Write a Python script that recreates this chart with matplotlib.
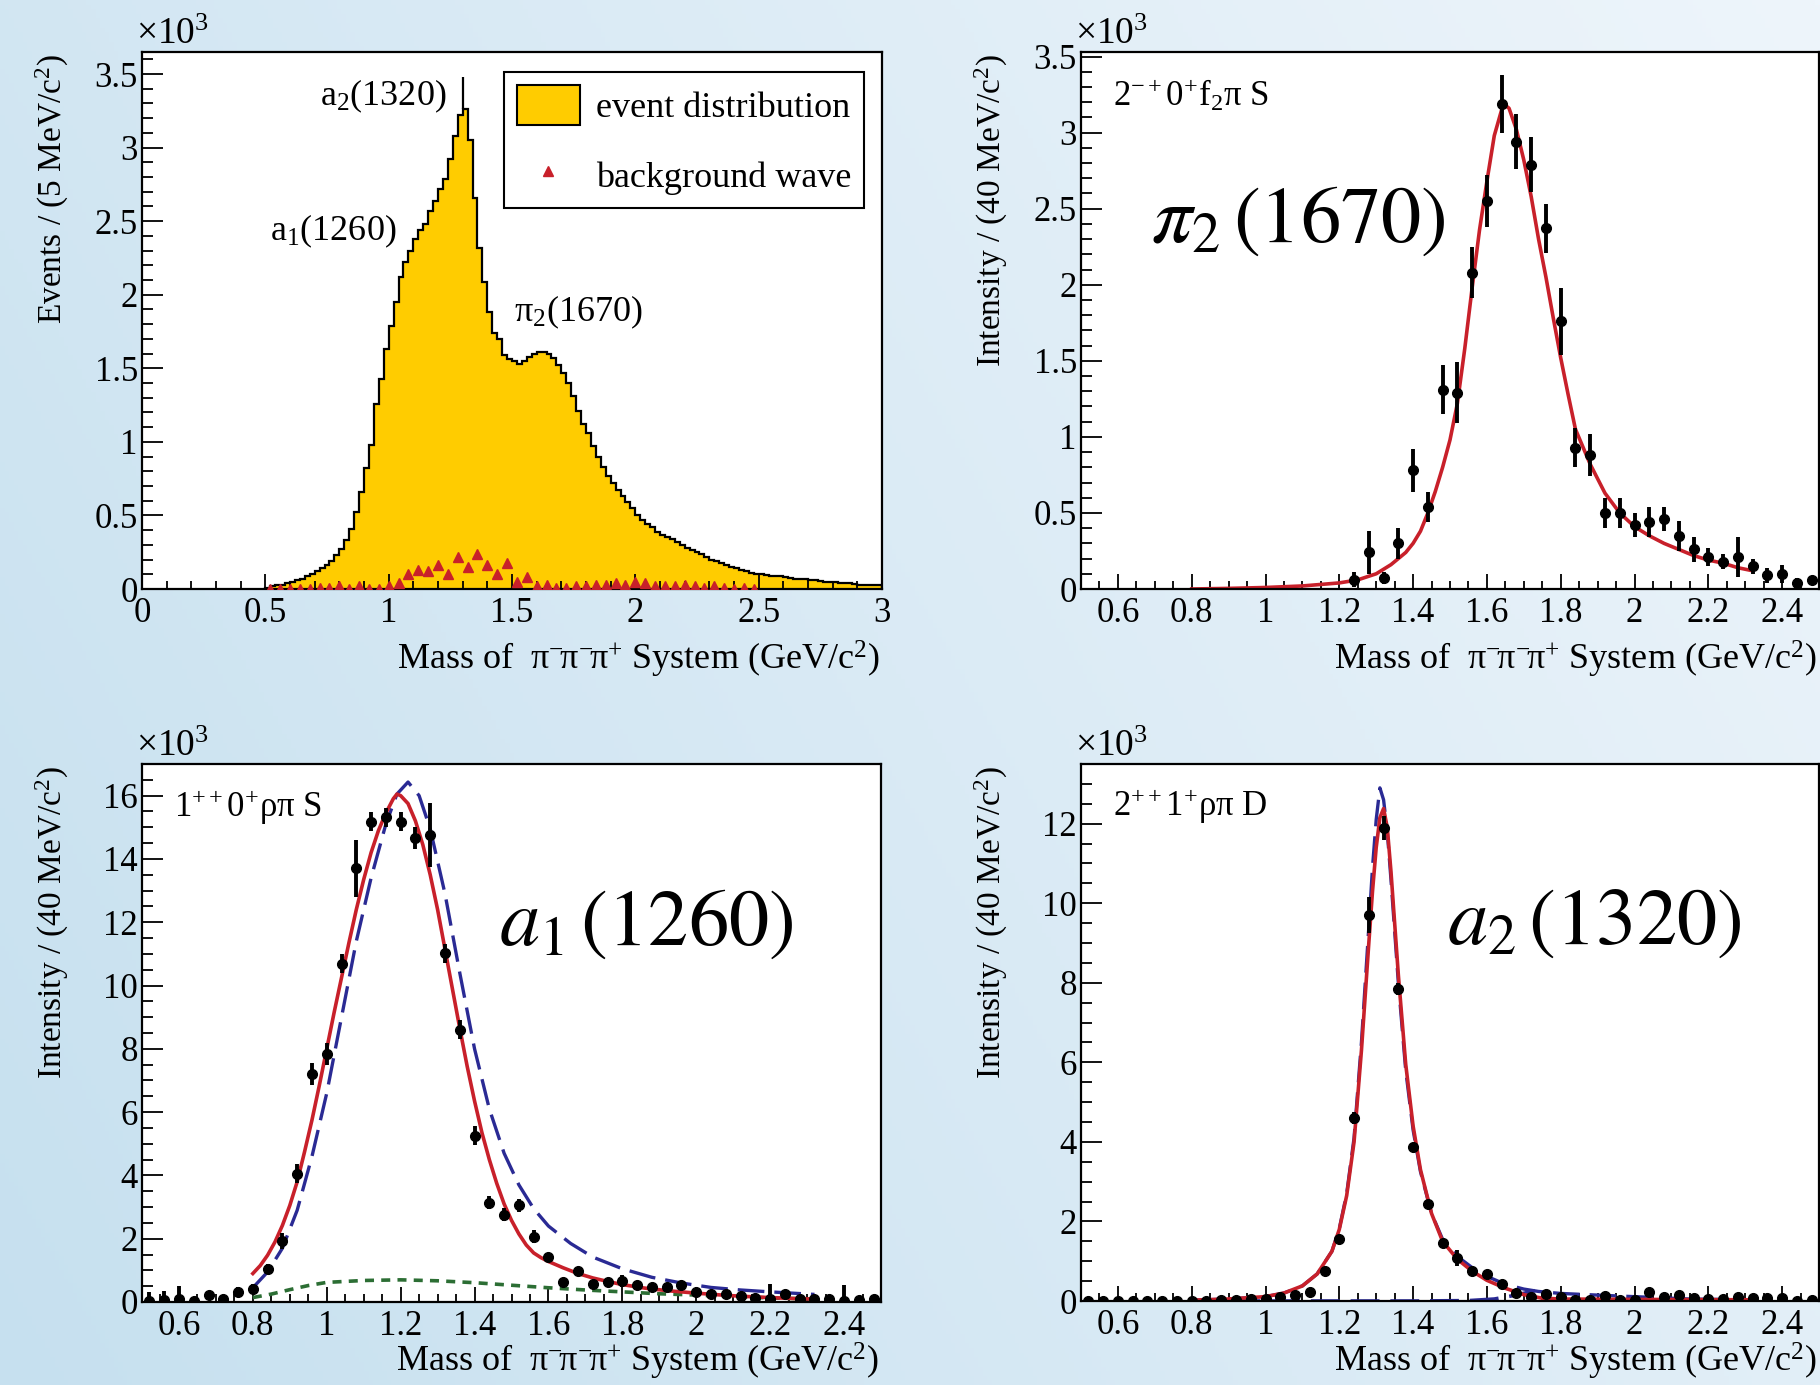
import numpy as np
import matplotlib
matplotlib.use('Agg')
import matplotlib.pyplot as plt
from matplotlib.ticker import MultipleLocator, FuncFormatter
from matplotlib.patches import Patch
from matplotlib.lines import Line2D

plt.rcParams['font.family'] = 'Liberation Serif'
plt.rcParams['mathtext.fontset'] = 'custom'
plt.rcParams['mathtext.rm'] = 'Liberation Serif'
plt.rcParams['mathtext.it'] = 'Liberation Serif:italic'
plt.rcParams['mathtext.bf'] = 'Liberation Serif:bold'

# ---- data (intensities in units of 10^3) ----
# top left: event distribution, 20 MeV bins from 0.5 to 3.0 GeV
event_counts = [
    0.01, 0.02, 0.025, 0.03, 0.04, 0.05, 0.06, 0.07, 0.085, 0.10,
    0.12, 0.14, 0.16, 0.19, 0.23, 0.27, 0.33, 0.41, 0.52, 0.66,
    0.82, 0.98, 1.26, 1.43, 1.63, 1.79, 1.95, 2.12, 2.22, 2.30,
    2.38, 2.44, 2.48, 2.57, 2.64, 2.72, 2.79, 2.92, 3.08, 3.22,
    3.26, 3.05, 2.66, 2.32, 2.09, 1.88, 1.74, 1.70, 1.59, 1.56,
    1.55, 1.53, 1.55, 1.58, 1.60, 1.61, 1.61, 1.60, 1.57, 1.52,
    1.47, 1.40, 1.31, 1.21, 1.12, 1.06, 0.97, 0.90, 0.83, 0.77,
    0.72, 0.67, 0.63, 0.59, 0.55, 0.50, 0.47, 0.44, 0.42, 0.39,
    0.37, 0.355, 0.34, 0.32, 0.30, 0.28, 0.265, 0.25, 0.235, 0.215,
    0.20, 0.19, 0.175, 0.16, 0.15, 0.14, 0.13, 0.12, 0.11, 0.105,
    0.10, 0.095, 0.09, 0.09, 0.085, 0.08, 0.075, 0.07, 0.07, 0.065,
    0.06, 0.06, 0.055, 0.05, 0.05, 0.045, 0.04, 0.04, 0.04, 0.035,
    0.03, 0.03, 0.03, 0.025, 0.025]
a2_spike_mass = 1.30
a2_spike_top = 3.48

wave_mass = np.round(np.arange(0.52, 2.5, 0.04), 2)   # 40 MeV bin centres
background_wave = [
    0, 0, 0, 0, 0, 0.01, 0.01, 0.02, 0, 0.02,
    0, 0, 0.02, 0.04, 0.10, 0.13, 0.12, 0.16, 0.10, 0.22,
    0.15, 0.24, 0.16, 0.10, 0.18, 0.05, 0.08, 0.02, 0.03, 0.01,
    0.01, 0.02, 0.02, 0.03, 0.03, 0.04, 0.03, 0.05, 0.04, 0.02,
    0.02, 0.02, 0.03, 0.02, 0.01, 0.02, 0.01, 0.0, 0.01, 0.0]

# top right: 2-+0+ f2 pi S
pi2_mass = np.round(np.arange(1.24, 2.5, 0.04), 2)
pi2_int = [0.06, 0.24, 0.07, 0.30, 0.78, 0.54, 1.31, 1.29, 2.08, 2.55,
           3.19, 2.94, 2.79, 2.37, 1.76, 0.93, 0.88, 0.50, 0.50, 0.42,
           0.44, 0.46, 0.35, 0.26, 0.21, 0.18, 0.21, 0.15, 0.09, 0.10,
           0.04, 0.06]
pi2_err = [0.05, 0.14, 0.04, 0.10, 0.14, 0.10, 0.16, 0.20, 0.17, 0.17,
           0.19, 0.18, 0.18, 0.16, 0.22, 0.13, 0.14, 0.10, 0.10, 0.08,
           0.10, 0.08, 0.10, 0.08, 0.06, 0.05, 0.13, 0.05, 0.05, 0.06,
           0.03, 0.02]
pi2_fit_mass = [0.80, 0.90, 1.00, 1.10, 1.15, 1.20, 1.25, 1.30, 1.34, 1.38,
                1.40, 1.42, 1.44, 1.46, 1.48, 1.50, 1.52, 1.54, 1.56, 1.58,
                1.60, 1.62, 1.64, 1.65, 1.66, 1.68, 1.70, 1.72, 1.74, 1.76,
                1.78, 1.80, 1.82, 1.84, 1.88, 1.92, 1.96, 2.00, 2.04, 2.08,
                2.12, 2.16, 2.20, 2.24, 2.28, 2.32]
pi2_fit = [0.0, 0.004, 0.01, 0.02, 0.03, 0.04, 0.06, 0.10, 0.16, 0.24,
           0.30, 0.38, 0.50, 0.64, 0.80, 0.98, 1.22, 1.58, 1.98, 2.36,
           2.68, 2.98, 3.15, 3.18, 3.16, 3.02, 2.82, 2.58, 2.30, 2.05,
           1.78, 1.52, 1.28, 1.05, 0.82, 0.63, 0.50, 0.41, 0.35, 0.30,
           0.26, 0.22, 0.19, 0.17, 0.14, 0.12]

# bottom left: 1++0+ rho pi S
a1_int = [0.03, 0.06, 0.10, 0.04, 0.21, 0.11, 0.32, 0.42, 1.04, 1.93,
          4.06, 7.21, 7.84, 10.69, 13.71, 15.18, 15.31, 15.17, 14.66, 14.76,
          11.02, 8.61, 5.25, 3.14, 2.76, 3.05, 2.06, 1.43, 0.62, 0.98,
          0.56, 0.63, 0.66, 0.55, 0.46, 0.48, 0.53, 0.31, 0.24, 0.24,
          0.18, 0.14, 0.11, 0.25, 0.11, 0.08, 0.10, 0.04, 0.06, 0.08]
a1_err = [0.3, 0.3, 0.4, 0.1, 0.1, 0.1, 0.15, 0.15, 0.15, 0.25,
          0.3, 0.35, 0.35, 0.3, 0.9, 0.3, 0.3, 0.3, 0.35, 1.0,
          0.3, 0.3, 0.3, 0.2, 0.2, 0.2, 0.2, 0.1, 0.1, 0.1,
          0.1, 0.1, 0.2, 0.1, 0.1, 0.1, 0.1, 0.1, 0.1, 0.1,
          0.1, 0.1, 0.45, 0.1, 0.1, 0.1, 0.1, 0.5, 0.1, 0.1]
a1_fit_mass = [0.80, 0.82, 0.84, 0.86, 0.88, 0.90, 0.92, 0.94, 0.96, 0.98,
               1.00, 1.02, 1.04, 1.06, 1.08, 1.10, 1.12, 1.14, 1.16, 1.18,
               1.19, 1.20, 1.22, 1.24, 1.26, 1.28, 1.30, 1.32, 1.34, 1.36,
               1.38, 1.40, 1.42, 1.44, 1.46, 1.48, 1.50, 1.52, 1.54, 1.56,
               1.58, 1.60, 1.64, 1.68, 1.72, 1.76, 1.80, 1.86, 1.92, 2.00,
               2.08, 2.16, 2.24, 2.32]
a1_fit = [0.90, 1.15, 1.48, 1.90, 2.42, 3.05, 3.80, 4.75, 5.75, 6.85,
          8.00, 9.15, 10.25, 11.35, 12.40, 13.35, 14.20, 14.90, 15.45, 15.90,
          16.05, 16.00, 15.75, 15.20, 14.45, 13.50, 12.40, 11.15, 9.90, 8.65,
          7.45, 6.35, 5.35, 4.50, 3.75, 3.10, 2.58, 2.15, 1.80, 1.55,
          1.40, 1.28, 1.08, 0.90, 0.76, 0.65, 0.55, 0.44, 0.36, 0.28,
          0.21, 0.16, 0.12, 0.09]
a1_bw_mass = [0.80, 0.84, 0.88, 0.92, 0.96, 1.00, 1.04, 1.08, 1.12, 1.16,
              1.19, 1.22, 1.25, 1.28, 1.32, 1.36, 1.40, 1.44, 1.48, 1.52,
              1.56, 1.60, 1.66, 1.72, 1.80, 1.88, 1.96, 2.04, 2.12, 2.20,
              2.32]
a1_bw = [0.45, 0.95, 1.70, 2.90, 4.60, 6.60, 9.00, 11.40, 13.40, 15.10,
         16.05, 16.43, 16.00, 14.95, 12.90, 10.40, 8.00, 6.10, 4.70, 3.70,
         2.95, 2.40, 1.85, 1.42, 1.05, 0.78, 0.60, 0.46, 0.38, 0.32,
         0.24]
a1_bkg_mass = [0.80, 0.85, 0.90, 0.95, 1.00, 1.10, 1.20, 1.30, 1.40, 1.50,
               1.60, 1.70, 1.80, 1.90, 2.00, 2.10, 2.20, 2.32]
a1_bkg = [0.14, 0.25, 0.39, 0.52, 0.62, 0.68, 0.70, 0.67, 0.61, 0.53,
          0.45, 0.38, 0.32, 0.26, 0.22, 0.17, 0.13, 0.09]

# bottom right: 2++1+ rho pi D
a2_int = [0, 0, 0, 0, 0, 0, 0, 0, 0.0, 0.02,
          0.03, 0.05, 0.05, 0.11, 0.15, 0.23, 0.76, 1.57, 4.6, 9.7,
          11.9, 7.84, 3.86, 2.43, 1.46, 1.09, 0.76, 0.68, 0.42, 0.20,
          0.11, 0.18, 0.09, 0.03, 0.03, 0.12, 0.03, 0.03, 0.23, 0.11,
          0.16, 0.07, 0.06, 0.06, 0.09, 0.07, 0.07, 0.07, 0.0, 0.03]
a2_err = [0.05, 0.05, 0.05, 0.05, 0.05, 0.05, 0.05, 0.05, 0.05, 0.05,
          0.05, 0.05, 0.05, 0.05, 0.05, 0.05, 0.05, 0.08, 0.15, 0.45,
          0.3, 0.15, 0.1, 0.1, 0.1, 0.2, 0.1, 0.05, 0.1, 0.05,
          0.05, 0.05, 0.05, 0.05, 0.05, 0.05, 0.05, 0.05, 0.05, 0.05,
          0.05, 0.05, 0.05, 0.05, 0.05, 0.05, 0.05, 0.05, 0.05, 0.05]
a2_fit_mass = [0.80, 0.90, 1.00, 1.05, 1.10, 1.14, 1.18, 1.20, 1.22, 1.24,
               1.26, 1.28, 1.29, 1.30, 1.31, 1.32, 1.33, 1.34, 1.35, 1.36,
               1.38, 1.40, 1.42, 1.45, 1.48, 1.52, 1.56, 1.60, 1.65, 1.70,
               1.75, 1.80, 2.00, 2.32]
a2_fit = [0.02, 0.05, 0.11, 0.20, 0.38, 0.68, 1.25, 1.80, 2.65, 4.00,
          6.30, 9.00, 10.30, 11.40, 12.15, 12.38, 11.90, 10.80, 9.50, 8.20,
          5.95, 4.40, 3.30, 2.20, 1.50, 1.05, 0.75, 0.52, 0.32, 0.16,
          0.07, 0.05, 0.04, 0.03]
a2_bw_mass = [0.80, 0.90, 1.00, 1.05, 1.10, 1.14, 1.18, 1.20, 1.22, 1.24,
              1.26, 1.28, 1.29, 1.30, 1.31, 1.32, 1.33, 1.34, 1.35, 1.36,
              1.38, 1.40, 1.42, 1.45, 1.48, 1.52, 1.56, 1.60, 1.65, 1.70,
              1.74, 1.80, 1.92, 2.05, 2.15, 2.32]
a2_bw = [0.02, 0.05, 0.11, 0.20, 0.38, 0.68, 1.25, 1.82, 2.70, 4.10,
         6.50, 9.40, 10.90, 12.10, 12.90, 12.60, 11.80, 10.60, 9.30, 8.00,
         5.80, 4.30, 3.25, 2.20, 1.55, 1.12, 0.84, 0.62, 0.42, 0.30,
         0.24, 0.19, 0.14, 0.09, 0.05, 0.03]
a2_bkg_mass = [0.80, 1.00, 1.20, 1.40, 1.55, 1.62, 1.68, 1.73]
a2_bkg = [0.0, 0.0, 0.0, 0.0, 0.01, 0.05, 0.15, 0.26]

# ---- styling ----
YELLOW = '#ffcc00'
RED = '#c8202a'
BLUE = '#2a2a94'
GREEN = '#2c6e34'
FS = 25

W, H = 1820, 1385
fig = plt.figure(figsize=(W / 100, H / 100), dpi=100)

# light blue slide background
bg = fig.add_axes([0, 0, 1, 1], zorder=-10)
gx, gy = np.meshgrid(np.linspace(0, 1, 400), np.linspace(0, 1, 300))
t = 0.7 * gx + 0.3 * (1 - gy)
t = (t - t.min()) / (t.max() - t.min())
c0 = np.array([198, 224, 239]) / 255
c1 = np.array([238, 245, 251]) / 255
bg.imshow(c0 + (c1 - c0) * t[..., None], aspect='auto', extent=[0, 1, 0, 1])
bg.set_axis_off()


def box(l, t, r, b):
    return [l / W, 1 - b / H, (r - l) / W, (b - t) / H]


def style(ax, xlim, ylim, xmaj, xmin, ymaj, ymin):
    ax.set_xlim(*xlim)
    ax.set_ylim(*ylim)
    for s in ax.spines.values():
        s.set_linewidth(1.6)
    ax.xaxis.set_major_locator(MultipleLocator(xmaj))
    ax.xaxis.set_minor_locator(MultipleLocator(xmin))
    ax.yaxis.set_major_locator(MultipleLocator(ymaj))
    ax.yaxis.set_minor_locator(MultipleLocator(ymin))
    fmt = FuncFormatter(lambda v, p: f'{round(v, 3):g}')
    ax.xaxis.set_major_formatter(fmt)
    ax.yaxis.set_major_formatter(fmt)
    ax.tick_params(which='both', direction='in', top=False, right=False,
                   labelsize=FS, width=1.3)
    ax.tick_params(axis='x', which='major', length=11, pad=6)
    ax.tick_params(axis='x', which='minor', length=5.5)
    ax.tick_params(axis='y', which='major', length=15, pad=3)
    ax.tick_params(axis='y', which='minor', length=8)


def titles(ax_left_px, ax_right_px, top_px, xtitle_y, ytitle):
    fig.text((ax_left_px - 90) / W, 1 - (top_px + 2) / H, ytitle, rotation=90,
             ha='center', va='top', fontsize=FS - 1)
    fig.text((ax_right_px - 2) / W, 1 - xtitle_y / H,
             r'Mass of  $\mathrm{\pi^{-}\!\pi^{-}\!\pi^{+}}$ System (GeV/c$^{2}$)',
             ha='right', va='center', fontsize=FS + 1)
    fig.text((ax_left_px - 6) / W, 1 - (top_px - 17) / H, r'×10$^{3}$',
             ha='left', va='center', fontsize=FS + 2)


def points(ax, x, y, err):
    ax.errorbar(x, y, yerr=err, fmt='o', color='black', ms=7,
                elinewidth=2.8, capsize=0, zorder=3)


ax1 = fig.add_axes(box(142, 52, 882, 589))
ax2 = fig.add_axes(box(1081, 52, 1819, 589))
ax3 = fig.add_axes(box(142, 764, 881, 1302))
ax4 = fig.add_axes(box(1081, 764, 1819, 1301))

# top left
edges = np.linspace(0.5, 3.0, len(event_counts) + 1)
ax1.stairs(event_counts, edges, fill=True, color=YELLOW, zorder=1)
ax1.stairs(event_counts, edges, color='black', lw=1.6, zorder=2)
ax1.vlines(a2_spike_mass, max(event_counts), a2_spike_top, color='black', lw=1.6, zorder=2)
ax1.plot(wave_mass, background_wave, ls='none', marker='^', ms=7.5, color=RED, zorder=3)
style(ax1, (0, 3), (0, 3.65), 0.5, 0.1, 0.5, 0.1)
ax1.text(0.72, 3.35, r'a$_2$(1320)', fontsize=FS + 1, va='center')
ax1.text(0.52, 2.43, r'a$_1$(1260)', fontsize=FS + 1, va='center')
ax1.text(1.51, 1.88, r'$\mathrm{\pi}_2$(1670)', fontsize=FS + 1, va='center')
handles = [Patch(facecolor=YELLOW, edgecolor='black', lw=1.5),
           Line2D([], [], ls='none', marker='^', ms=7, color=RED)]
leg = ax1.legend(handles, ['event distribution', 'background wave'],
                 loc='upper right', bbox_to_anchor=(0.976, 0.963), borderaxespad=0,
                 fontsize=FS + 1, fancybox=False, edgecolor='black', framealpha=1,
                 handlelength=1.75, handleheight=1.33, handletextpad=0.45,
                 labelspacing=0.85, borderpad=0.35)
leg.get_frame().set_linewidth(1.5)
titles(142, 882, 52, 659, r'Events / (5 MeV/c$^{2}$)')

# top right
ax2.plot(pi2_fit_mass, pi2_fit, color=RED, lw=2.6, zorder=2)
points(ax2, pi2_mass, pi2_int, pi2_err)
style(ax2, (0.5, 2.5), (0, 3.53), 0.2, 0.05, 0.5, 0.1)
ax2.text(0.587, 3.24, r'$\mathrm{2^{-+}0^{+}f_{2}\pi\ S}$', fontsize=FS, va='center')
ax2.text(0.69, 2.41, r'$\pi_2\,(1670)$', fontsize=58, va='center', math_fontfamily='stix')
titles(1081, 1819, 52, 659, r'Intensity / (40 MeV/c$^{2}$)')

# bottom left
ax3.plot(a1_bkg_mass, a1_bkg, color=GREEN, lw=2.6, ls=(0, (2.5, 2)), zorder=2)
ax3.plot(a1_bw_mass, a1_bw, color=BLUE, lw=2.4, ls=(0, (8, 3)), zorder=2)
ax3.plot(a1_fit_mass, a1_fit, color=RED, lw=2.6, zorder=2)
points(ax3, wave_mass, a1_int, a1_err)
style(ax3, (0.5, 2.5), (0, 17.0), 0.2, 0.05, 2, 0.5)
ax3.text(0.587, 15.62, r'$\mathrm{1^{++}0^{+}\rho\pi\ S}$', fontsize=FS, va='center')
ax3.text(1.466, 11.9, r'$a_1\,(1260)$', fontsize=58, va='center', math_fontfamily='stix')
titles(142, 881, 764, 1361, r'Intensity / (40 MeV/c$^{2}$)')

# bottom right
ax4.plot(a2_bkg_mass, a2_bkg, color=BLUE, lw=2.6, ls=(0, (8, 3)), zorder=2)
ax4.plot(a2_bw_mass, a2_bw, color=BLUE, lw=2.4, ls=(0, (8, 3)), zorder=2)
ax4.plot(a2_fit_mass, a2_fit, color=RED, lw=2.6, zorder=2)
points(ax4, wave_mass, a2_int, a2_err)
style(ax4, (0.5, 2.5), (0, 13.5), 0.2, 0.05, 2, 0.5)
ax4.text(0.587, 12.43, r'$\mathrm{2^{++}1^{+}\rho\pi\ D}$', fontsize=FS, va='center')
ax4.text(1.492, 9.46, r'$a_2\,(1320)$', fontsize=58, va='center', math_fontfamily='stix')
titles(1081, 1819, 764, 1361, r'Intensity / (40 MeV/c$^{2}$)')

fig.savefig('out.png', dpi=100)
